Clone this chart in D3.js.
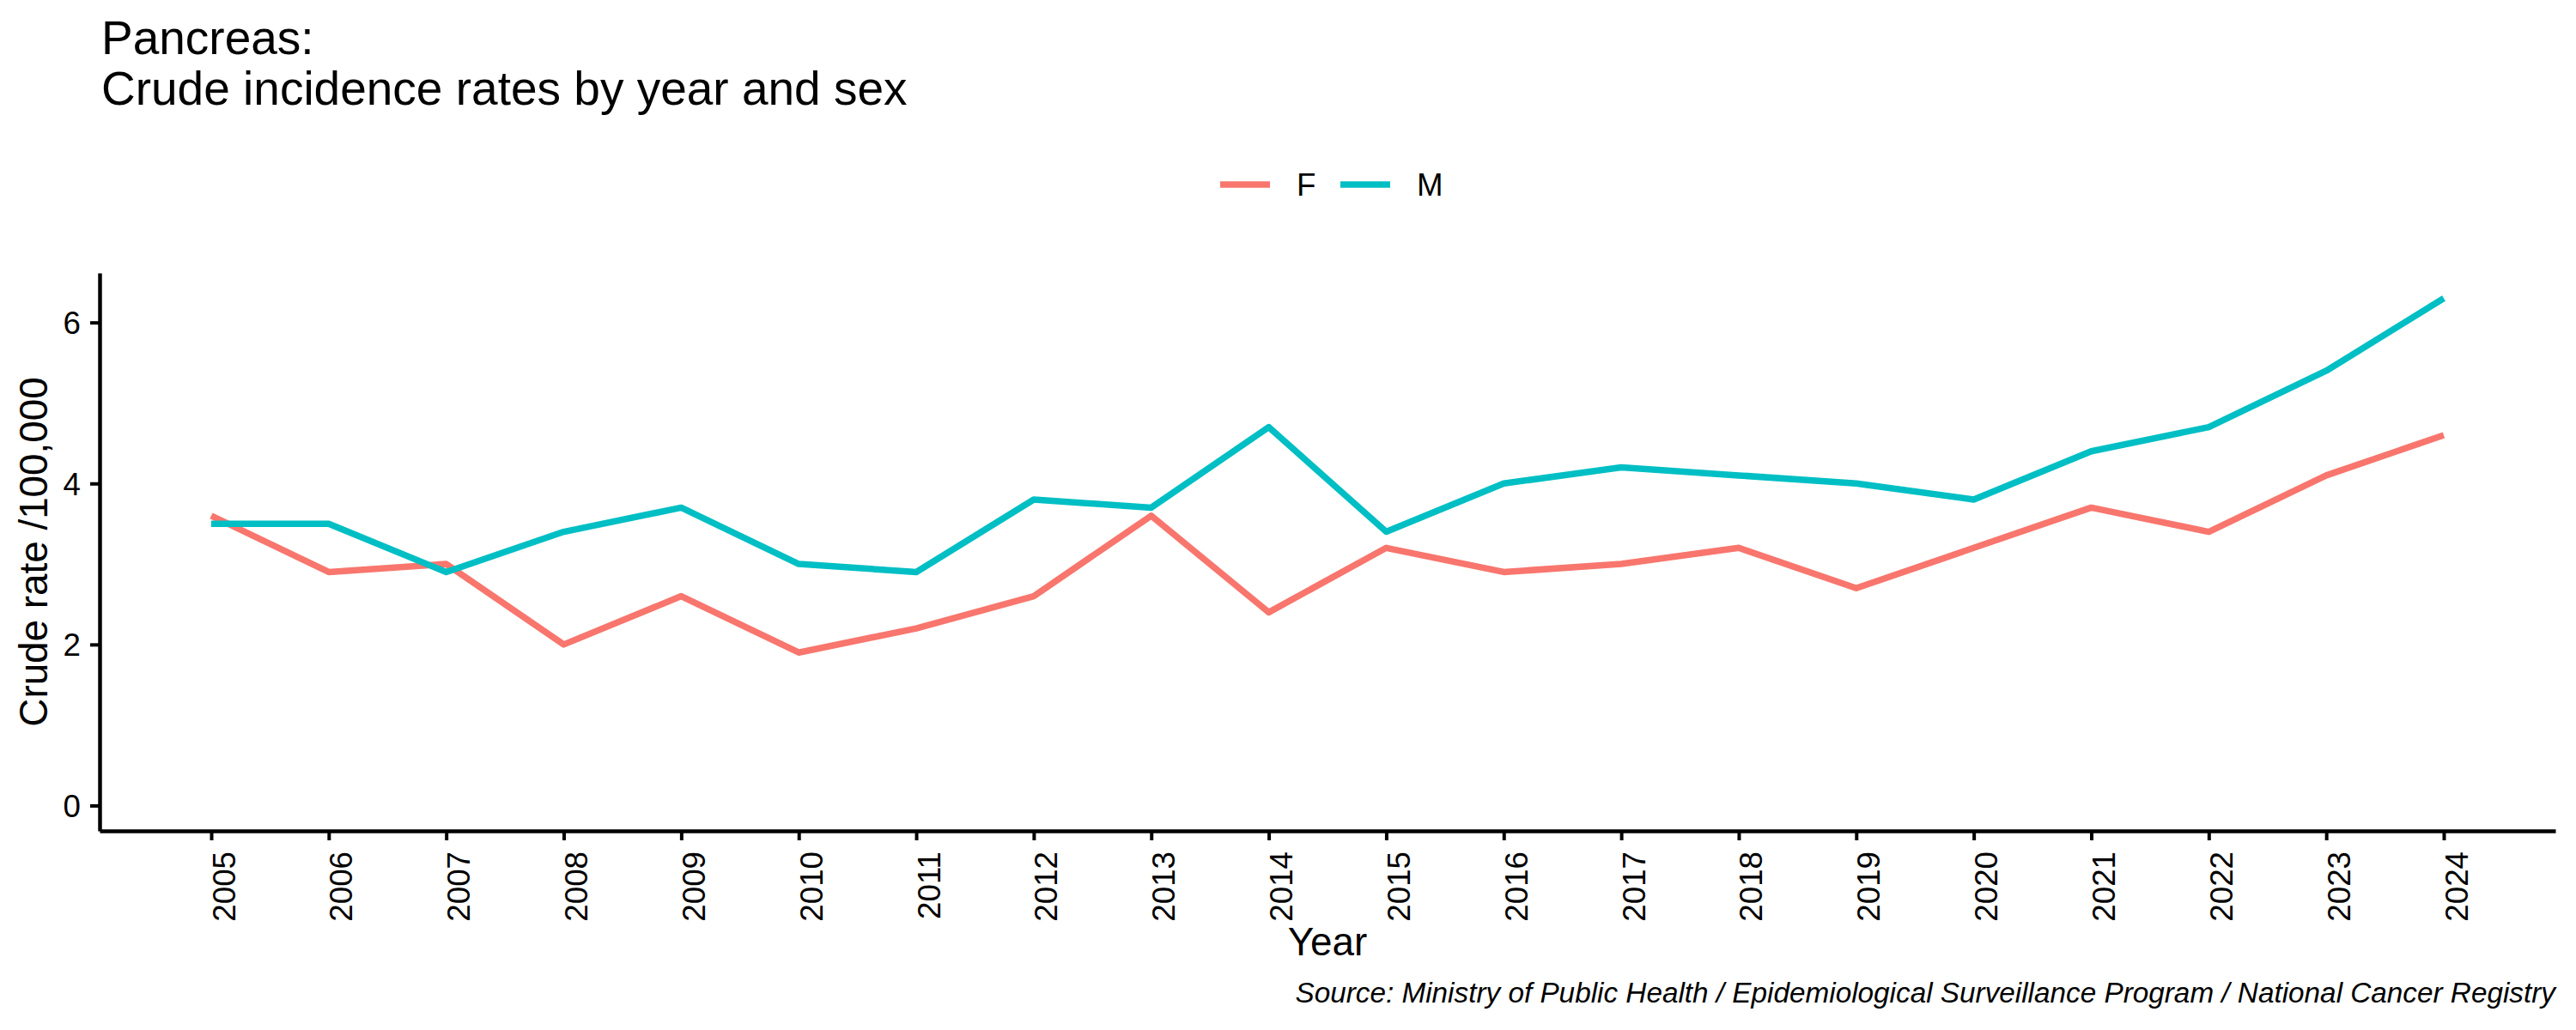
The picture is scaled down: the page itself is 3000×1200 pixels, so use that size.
<!DOCTYPE html>
<html>
<head>
<meta charset="utf-8">
<script src="https://cdn.jsdelivr.net/npm/d3@7"></script>
<style>
  body { margin: 0; background: #fff; }
  text { font-family: "Liberation Sans", Arial, sans-serif; }
</style>
</head>
<body>
<div id="chart"></div>
<script>
// data
var years = [2005, 2006, 2007, 2008, 2009, 2010, 2011, 2012, 2013, 2014,
             2015, 2016, 2017, 2018, 2019, 2020, 2021, 2022, 2023, 2024];
var femaleRates = [3.6, 2.9, 3.0, 2.0, 2.6, 1.9, 2.2, 2.6, 3.6, 2.4,
                   3.2, 2.9, 3.0, 3.2, 2.7, 3.2, 3.7, 3.4, 4.1, 4.6];
var maleRates = [3.5, 3.5, 2.9, 3.4, 3.7, 3.0, 2.9, 3.8, 3.7, 4.7,
                 3.4, 4.0, 4.2, 4.1, 4.0, 3.8, 4.4, 4.7, 5.4, 6.3];
var sexes = ["F", "M"];
var sexColors = ["#F8766D", "#00BFC4"];
var yTicks = [0, 2, 4, 6];

var titleLines = ["Pancreas:", "Crude incidence rates by year and sex"];
var caption = "Source: Ministry of Public Health / Epidemiological Surveillance Program / National Cancer Registry";

var svgWidth = 3000;
var svgHeight = 1200;

var margin = {top: 318, right: 24, bottom: 232, left: 116};
var width = svgWidth - margin.left - margin.right;
var height = svgHeight - margin.top - margin.bottom;

var svg = d3.select("#chart")
    .append("svg")
    .attr("width", svgWidth)
    .attr("height", svgHeight)
    .style("background", "#fff");

var chartGroup = svg.append("g")
    .attr("transform", `translate(${margin.left}, ${margin.top})`);

var series = sexes.map(function(s, i) {
    var vals = i === 0 ? femaleRates : maleRates;
    return {sex: s, color: sexColors[i], values: years.map((y, j) => ({year: y, rate: vals[j]}))};
});

// ggplot style 5% expansion
var xMin = d3.min(years), xMax = d3.max(years);
var xPad = (xMax - xMin) * 0.05;
var xScale = d3.scaleLinear()
    .domain([xMin - xPad, xMax + xPad])
    .range([0, width]);

var yLo = 0, yHi = d3.max(femaleRates.concat(maleRates));
var yPad = (yHi - yLo) * 0.05;
var yScale = d3.scaleLinear()
    .domain([yLo - yPad, yHi + yPad])
    .range([height, 0]);

// axes
var xAxis = d3.axisBottom(xScale)
    .tickValues(years)
    .tickFormat(d3.format("d"))
    .tickSize(11)
    .tickSizeOuter(0);
var yAxis = d3.axisLeft(yScale)
    .tickValues(yTicks)
    .tickFormat(d3.format("d"))
    .tickSize(11)
    .tickPadding(11)
    .tickSizeOuter(0);

var gx = chartGroup.append("g")
    .attr("transform", `translate(0, ${height})`)
    .call(xAxis);
var gy = chartGroup.append("g")
    .call(yAxis);

[gx, gy].forEach(function(g) {
    g.select(".domain").attr("stroke", "#000").attr("stroke-width", 4.5);
    g.selectAll(".tick line").attr("stroke", "#000").attr("stroke-width", 4);
    g.selectAll(".tick text")
        .attr("fill", "#000")
        .attr("font-size", "36.7px")
        .attr("font-family", "Liberation Sans, Arial, sans-serif");
});

gx.selectAll(".tick text")
    .attr("transform", "rotate(-90)")
    .attr("text-anchor", "end")
    .attr("x", -24)
    .attr("y", 27)
    .attr("dy", 0);

gy.selectAll(".tick text").attr("dy", "0.35em");

// lines
var line = d3.line()
    .x(d => xScale(d.year))
    .y(d => yScale(d.rate));

chartGroup.selectAll(".series")
    .data(series)
    .enter()
    .append("path")
    .attr("class", "series")
    .attr("d", d => line(d.values))
    .attr("fill", "none")
    .attr("stroke", d => d.color)
    .attr("stroke-width", 7.5)
    .attr("stroke-linejoin", "round");

// axis titles
chartGroup.append("text")
    .attr("transform", "rotate(-90)")
    .attr("x", -height / 2)
    .attr("y", 55 - margin.left)
    .attr("text-anchor", "middle")
    .attr("font-size", "45.8px")
    .attr("fill", "#000")
    .text("Crude rate /100,000");

chartGroup.append("text")
    .attr("x", width / 2)
    .attr("y", height + 145)
    .attr("text-anchor", "middle")
    .attr("font-size", "45.8px")
    .attr("fill", "#000")
    .text("Year");

// caption
chartGroup.append("text")
    .attr("x", width)
    .attr("y", height + 200)
    .attr("text-anchor", "end")
    .attr("font-size", "33.3px")
    .attr("font-style", "italic")
    .attr("fill", "#000")
    .text(caption);

// title
svg.append("g")
    .selectAll("text")
    .data(titleLines)
    .enter()
    .append("text")
    .attr("x", margin.left + 2)
    .attr("y", (d, i) => 63 + i * 59)
    .attr("font-size", "55px")
    .attr("fill", "#000")
    .text(d => d);

// legend
var legend = svg.append("g")
    .attr("transform", "translate(1421, 215)");
var legendItems = legend.selectAll("g")
    .data(series)
    .enter()
    .append("g")
    .attr("transform", (d, i) => `translate(${i * 140}, 0)`);
legendItems.append("line")
    .attr("x1", 0)
    .attr("x2", 58)
    .attr("stroke", d => d.color)
    .attr("stroke-width", 7.5);
legendItems.append("text")
    .attr("x", 89)
    .attr("y", 13)
    .attr("font-size", "36.7px")
    .attr("fill", "#000")
    .text(d => d.sex);
</script>
</body>
</html>
